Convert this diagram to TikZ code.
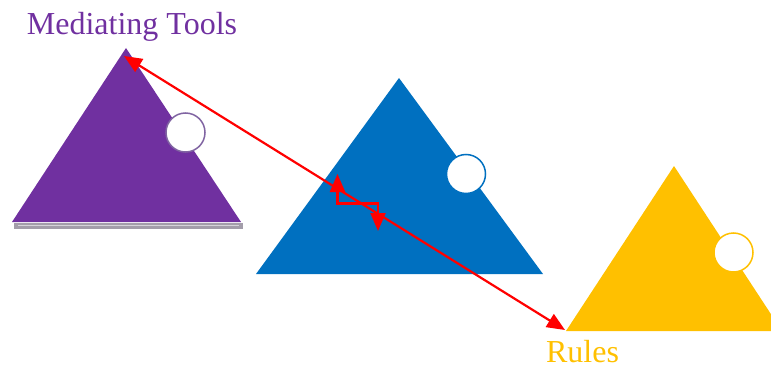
\documentclass[tikz,border=0pt]{standalone}
\usepackage{fontspec}
\setmainfont{Liberation Serif}
\usetikzlibrary{arrows.meta}
\definecolor{cpurple}{HTML}{7030A0}
\definecolor{cblue}{HTML}{0070C0}
\definecolor{cyellow}{HTML}{FFC000}
\definecolor{cpring}{HTML}{8064A2}
\definecolor{cshadow}{HTML}{A39DAA}
\definecolor{cred}{HTML}{FF0000}
\tikzset{
  ring/.style={circle, fill=white, line width=1.5pt, minimum size=39pt, inner sep=0pt},
  redboth/.style={draw=cred, line width=2.2pt, line join=miter, {Triangle[length=18pt,width=15pt]}-{Triangle[length=18pt,width=15pt]}},
  lbl/.style={font=\fontsize{32}{36}\selectfont, anchor=base, inner sep=0pt}
}
\begin{document}
\begin{tikzpicture}[x=1pt,y=-1pt]
\useasboundingbox (0,0) rectangle (771,369);
% shadow under purple triangle
\fill[cshadow] (14,222.5) rectangle (243,228.5);
\draw[cshadow!45!white, line width=0.6pt] (18,225.4) -- (239,225.4);
% triangles
\coordinate (pA) at (126,48);
\coordinate (pL) at (12,222);
\coordinate (pR) at (241,222);
\fill[cpurple] (pA) -- (pL) -- (pR) -- cycle;
\coordinate (bA) at (399,78);
\coordinate (bL) at (256,274);
\coordinate (bR) at (543,274);
\fill[cblue] (bA) -- (bL) -- (bR) -- cycle;
\coordinate (yA) at (674,166);
\coordinate (yL) at (566,331);
\coordinate (yR) at (782,331);
\fill[cyellow] (yA) -- (yL) -- (yR) -- cycle;
% circles
\node[ring, draw=cpring] (pc) at (185.5,132.5) {};
\node[ring, draw=cblue] (bc) at (466,174) {};
\node[ring, draw=cyellow] (yc) at (733.5,252.5) {};
% labels
\node[lbl, text=cpurple] (mt) at (132,35) {Mediating Tools};
\node[lbl, text=cyellow] (ru) at (582.5,362.5) {Rules};
% connectors
\coordinate (tipTop) at (124,56);
\coordinate (tipBot) at (565,330);
\draw[redboth] (tipTop) -- (tipBot);
\coordinate (eUp) at (337.5,174);
\coordinate (eDn) at (378,231);
\draw[redboth] (eUp) -- (337.5,203.5) -- (378,203.5) -- (eDn);
\end{tikzpicture}
\end{document}
